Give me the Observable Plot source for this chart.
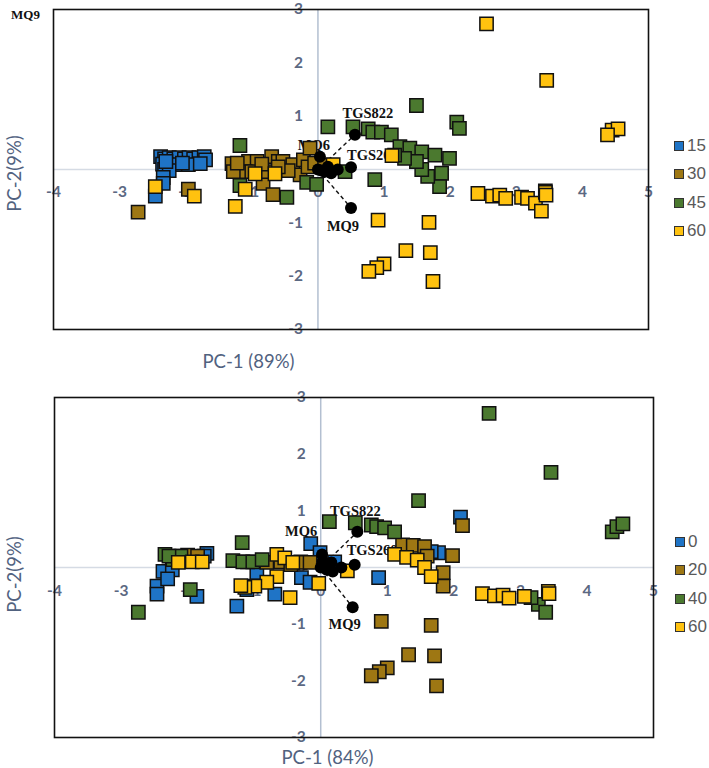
<!DOCTYPE html>
<html>
<head>
<meta charset="utf-8">
<script src="https://cdn.jsdelivr.net/npm/d3@7"></script>
<script src="https://cdn.jsdelivr.net/npm/@observablehq/plot@0.6"></script>
<style>
  body { margin: 0; background: #fff; }
  #wrap { position: relative; width: 709px; height: 768px; overflow: hidden; }
  #wrap > .panel { position: absolute; left: 0; }
  .legend { position: absolute; font-family: "Liberation Sans", Arial, sans-serif; font-size: 17px; color: #595959; }
  .legend .item { display: flex; align-items: center; height: 28.3px; }
  .legend .sw { width: 8px; height: 8px; border: 1.2px solid #333; margin-right: 3px; }
</style>
</head>
<body>
<div id="wrap"></div>
<script>
// ---- Scores, upper biplot (PC-1 89%, PC-2 9%) ----
const topKeys = ["15", "30", "45", "60"];
const top15 = [[-2.38,0.24],[-2.32,0.2],[-2.25,0.22],[-2.18,0.2],[-2.1,0.22],[-2.02,0.2],[-1.95,0.22],[-1.88,0.2],[-1.8,0.22],[-1.72,0.24],[-1.7,0.18],[-2.35,0.1],[-2.28,0.08],[-2.16,0.09],[-1.96,0.09],[-1.78,0.11],[-2.32,0.0],[-2.25,-0.02],[-2.34,-0.15],[-2.34,-0.26],[-2.46,-0.5],[-2.3,0.15],[-2.05,0.12]];
const top30 = [[-2.72,-0.8],[-1.96,-0.37],[-1.3,0.11],[-1.15,0.09],[-1.05,0.15],[-0.92,0.15],[-0.7,0.24],[-0.6,0.15],[-0.53,0.15],[-0.38,0.09],[-0.22,0.18],[-0.12,0.4],[-0.83,-0.26],[-0.68,-0.47],[-1.1,-0.04],[-0.8,-0.04],[-0.27,-0.1],[-0.45,-0.02],[0.0,0.1],[-1.28,-0.04],[-1.0,-0.04],[-0.6,0.05],[-0.15,0.05],[-0.05,0.12],[0.1,0.08],[-1.22,0.12],[-0.85,0.1]];
const top45 = [[-1.18,0.45],[0.15,0.8],[-1.18,-0.3],[-0.47,-0.52],[-0.17,-0.24],[-0.02,-0.28],[0.53,0.8],[0.76,0.76],[0.83,0.7],[0.96,0.7],[1.11,0.65],[1.24,0.43],[1.39,0.4],[1.57,0.33],[1.49,1.2],[2.1,0.89],[2.14,0.77],[1.77,0.27],[1.99,0.21],[1.87,-0.07],[1.84,-0.32],[1.66,-0.13],[1.57,0.0],[1.49,0.15],[1.31,0.21],[0.86,-0.19],[1.16,0.27],[0.41,-0.04],[3.44,-0.4]];
const top60 = [[2.55,2.73],[3.46,1.67],[4.45,0.74],[4.54,0.76],[4.38,0.65],[2.42,-0.45],[2.64,-0.5],[2.75,-0.48],[2.84,-0.54],[3.08,-0.52],[3.17,-0.54],[3.29,-0.63],[3.38,-0.78],[3.44,-0.43],[3.45,-0.48],[0.91,-0.95],[1.68,-0.99],[1.33,-1.52],[1.7,-1.56],[1.0,-1.77],[0.89,-1.84],[0.77,-1.91],[1.74,-2.1],[1.12,0.26],[-2.46,-0.32],[-1.87,-0.5],[-1.25,-0.69],[-1.1,-0.37],[-0.95,-0.08],[-0.65,-0.08],[0.23,0.09]];

// ---- Scores, lower biplot (PC-1 84%, PC-2 9%) ----
const botKeys = ["0", "20", "40", "60"];
const bot0 = [[2.1,0.89],[1.77,0.26],[1.66,0.28],[0.87,-0.18],[-0.15,0.42],[-0.01,0.26],[0.21,0.1],[-0.29,-0.18],[-0.16,-0.26],[-1.26,-0.68],[-0.69,-0.47],[-0.96,-0.09],[-1.11,-0.39],[-1.86,-0.51],[-2.46,-0.33],[-2.46,-0.47],[-2.37,-0.07],[-2.23,-0.04],[-1.71,0.25],[-2.3,-0.2],[-1.75,0.2],[-0.3,0.1],[0.1,0.05]];
const bot20 = [[2.13,0.74],[1.98,0.21],[1.84,-0.09],[1.84,-0.33],[1.23,0.4],[1.39,0.39],[1.56,0.37],[0.91,-0.95],[1.66,-1.02],[1.32,-1.54],[1.71,-1.56],[1.0,-1.77],[0.88,-1.84],[0.76,-1.91],[1.74,-2.09],[-0.31,0.09],[-0.16,0.09],[-0.81,0.09],[-0.6,0.1],[-2.2,0.2],[-2.0,0.22],[-1.85,0.2],[-1.1,0.1],[-0.45,0.05],[1.6,0.2]];
const bot40 = [[2.53,2.72],[3.46,1.68],[1.47,1.18],[4.38,0.63],[4.45,0.72],[4.54,0.77],[0.52,0.79],[0.76,0.75],[0.84,0.72],[0.96,0.7],[1.11,0.63],[3.27,-0.65],[3.38,-0.79],[3.16,-0.53],[0.13,0.81],[-1.18,0.44],[-2.74,-0.79],[-1.96,-0.39],[-2.34,0.23],[-2.22,0.14],[-2.1,0.2],[-1.32,0.12],[-1.17,0.1],[-1.02,0.1],[-0.88,0.14],[-2.28,0.2]];
const bot60 = [[2.43,-0.46],[2.61,-0.5],[2.74,-0.49],[2.83,-0.54],[3.06,-0.51],[3.42,-0.42],[3.43,-0.46],[1.11,0.23],[1.29,0.18],[1.45,0.13],[1.56,0.0],[1.66,-0.16],[0.4,-0.06],[-2.14,0.09],[-1.93,0.1],[-1.78,0.1],[-0.66,0.23],[-0.54,0.17],[-0.42,0.09],[-0.66,-0.16],[-0.81,-0.26],[-0.99,-0.33],[-1.14,-0.35],[-0.46,-0.53],[-0.03,-0.28],[-1.2,-0.32]];

// ---- Sensor loadings ----
const sensorNames = ["TGS822", "TGS2602", "MQ9", "MQ6"];
const topLoadings = [[0.56,0.65],[0.5,0.04],[0.5,-0.72],[0.03,0.24]];
const botLoadings = [[0.55,0.63],[0.51,0.05],[0.48,-0.7],[0.02,0.23]];
const topOtherLoadings = [[0.0,0.0],[0.1,-0.04],[0.2,-0.07],[0.3,0.0],[0.15,0.05],[0.05,-0.02]];
const botOtherLoadings = [[0.0,0.0],[0.09,-0.04],[0.18,-0.07],[0.31,0.0],[0.03,0.1],[0.16,0.09]];

// ---- Axes ----
const xTicks = [-4, -3, -2, -1, 0, 1, 2, 3, 4, 5];
const yTicks = [-3, -2, -1, 0, 1, 2, 3];
const seriesColors = ["#1f74c6", "#9e7713", "#4b792f", "#ffc20f"];

const tickFont = {fontFamily: "Lato, 'Open Sans', sans-serif", fontWeight: "bold", fontSize: 15.5, fill: "#5b6882"};
const titleFont = {fontFamily: "Lato, 'Open Sans', sans-serif", fontSize: 18.5, fill: "#51627f", textAnchor: "middle", lineAnchor: "middle"};
const sensorFont = {fontFamily: "'Liberation Serif', 'DejaVu Serif', serif", fontWeight: "bold", fontSize: 14.5, fill: "#111"};

function scores(keys, groups) {
  return keys.flatMap((k, i) => groups[i].map(([x, y]) => ({group: k, x, y})));
}

function biplot(o) {
  const pts = scores(o.keys, o.groups);
  const loads = sensorNames.map((name, i) => ({name, x: o.loadings[i][0], y: o.loadings[i][1]}));
  const others = o.others.map(([x, y]) => ({x, y}));
  const lab = (name, dx, dy, anchor = "middle") =>
    Plot.text(loads.filter(d => d.name === name), {x: "x", y: "y", text: "name", dx, dy, textAnchor: anchor, ...sensorFont});
  return Plot.plot({
    width: 709,
    height: o.height,
    marginLeft: o.ml, marginRight: o.mr, marginTop: o.mt, marginBottom: o.mb,
    x: {domain: [-4, 5], axis: null},
    y: {domain: [-3, 3], axis: null},
    color: {domain: o.keys, range: seriesColors},
    marks: [
      Plot.ruleY([0], {stroke: "#d5dbe4", strokeWidth: 1.5}),
      Plot.ruleX([0], {stroke: "#b3bfd1", strokeWidth: 1.5}),
      Plot.text(xTicks, {x: d => d, y: 0, text: d => String(d), dy: o.xTickDy, ...tickFont}),
      Plot.text(yTicks, {x: 0, y: d => d, text: d => String(d), dx: -15, textAnchor: "end", ...tickFont}),
      Plot.frame({stroke: "#111", strokeWidth: 1.6}),
      Plot.link(loads, {x1: 0, y1: 0, x2: "x", y2: "y", stroke: "#111", strokeWidth: 1.4, strokeDasharray: "4,3"}),
      ...o.labels.map(a => lab(...a)),
      Plot.dot(pts, {x: "x", y: "y", fill: "group", symbol: "square", r: 7.5, stroke: "#111", strokeWidth: 1.5}),
      Plot.dot(others, {x: "x", y: "y", r: 6, fill: "#000"}),
      Plot.dot(loads, {x: "x", y: "y", r: 6, fill: "#000"}),
      Plot.text(["PC-2(9%)"], {frameAnchor: "left", dx: 15 - o.ml, dy: o.yTitleDy, rotate: -90, text: d => d, ...titleFont}),
      Plot.text([o.xTitle], {frameAnchor: "bottom-left", dx: o.xTitleDx, dy: o.xTitleDy, text: d => d, ...titleFont}),
      ...(o.extra || [])
    ]
  });
}

function legend(keys, left, top) {
  const div = document.createElement("div");
  div.className = "legend";
  div.style.left = left + "px";
  div.style.top = top + "px";
  keys.forEach((k, i) => {
    const item = document.createElement("div");
    item.className = "item";
    const sw = document.createElement("div");
    sw.className = "sw";
    sw.style.background = seriesColors[i];
    const t = document.createElement("span");
    t.textContent = k;
    item.append(sw, t);
    div.append(item);
  });
  return div;
}

const wrap = document.getElementById("wrap");

const upper = biplot({
  keys: topKeys, groups: [top15, top30, top45, top60],
  loadings: topLoadings, others: topOtherLoadings,
  height: 380, ml: 53, mr: 61, mt: 9, mb: 51,
  xTickDy: 23, yTitleDy: 4,
  xTitle: "PC-1 (89%)", xTitleDx: 195, xTitleDy: 33,
  labels: [["TGS822", 13, -21], ["TGS2602", -4, -12, "start"], ["MQ9", -8, 18], ["MQ6", -6, -11]],
  extra: [Plot.text(["MQ9"], {frameAnchor: "top-left", dx: -28, dy: 5, text: d => d, ...sensorFont, fontSize: 13, textAnchor: "middle", lineAnchor: "middle"})]
});
upper.classList.add("panel");
upper.style.top = "0px";
wrap.append(upper);

const lower = biplot({
  keys: botKeys, groups: [bot0, bot20, bot40, bot60],
  loadings: botLoadings, others: botOtherLoadings,
  height: 383, ml: 54, mr: 56, mt: 12, mb: 31,
  xTickDy: 24, yTitleDy: 7,
  xTitle: "PC-1 (84%)", xTitleDx: 273, xTitleDy: 21,
  labels: [["TGS822", -2, -20], ["TGS2602", -8, -14, "start"], ["MQ9", -8, 17], ["MQ6", -21, -23]]
});
lower.classList.add("panel");
lower.style.top = "385px";
wrap.append(lower);

wrap.append(legend(topKeys, 674, 132));
wrap.append(legend(botKeys, 675, 528));
</script>
</body>
</html>
